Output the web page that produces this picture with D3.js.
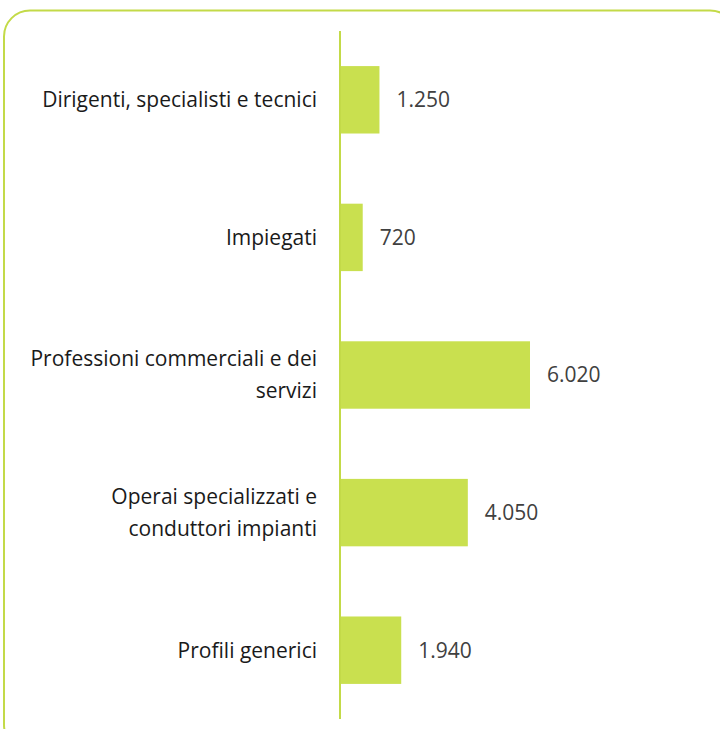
<!DOCTYPE html>
<html>
<head>
<meta charset="utf-8">
<script src="https://cdn.jsdelivr.net/npm/d3@7"></script>
<style>
    body { margin: 0; background: #fff; }
    svg { display: block; }
    text { font-family: "Open Sans", "Liberation Sans", sans-serif; }
</style>
</head>
<body>
<div id="chart"></div>
<script>
// categories (split into the lines shown on the chart)
const categories = [
    "Dirigenti, specialisti e tecnici",
    "Impiegati",
    "Professioni commerciali e dei servizi",
    "Operai specializzati e conduttori impianti",
    "Profili generici"
];
const categoryLines = [
    ["Dirigenti, specialisti e tecnici"],
    ["Impiegati"],
    ["Professioni commerciali e dei", "servizi"],
    ["Operai specializzati e", "conduttori impianti"],
    ["Profili generici"]
];
const values = [1250, 720, 6020, 4050, 1940];
const valueLabels = ["1.250", "720", "6.020", "4.050", "1.940"];

const width = 720, height = 729;
const green = "#c9e04f";

let svg = d3.select("#chart").append("svg")
    .attr("width", width)
    .attr("height", height);

// rounded frame, partly outside the picture
svg.append("rect")
    .attr("x", 4)
    .attr("y", 10.5)
    .attr("width", 732)
    .attr("height", 740)
    .attr("rx", 26)
    .attr("fill", "none")
    .attr("stroke", "#c3da48")
    .attr("stroke-width", 2);

const axisX = 340;

let y = d3.scaleBand()
    .domain(categories)
    .range([31, 719])
    .paddingInner(0.51)
    .paddingOuter(0.255);

let x = d3.scaleLinear()
    .domain([0, 6020])
    .range([axisX, 530]);

// bars
svg.selectAll(".bar")
    .data(values)
    .enter()
    .append("rect")
    .attr("class", "bar")
    .attr("x", x(0))
    .attr("y", (d, i) => y(categories[i]))
    .attr("width", d => x(d) - x(0))
    .attr("height", y.bandwidth())
    .attr("fill", green);

// axis line (no ticks)
let yAxis = d3.axisLeft(y).tickSize(0).tickFormat("");
let axisG = svg.append("g")
    .attr("transform", `translate(${axisX},0)`)
    .call(yAxis);
axisG.select(".domain")
    .attr("d", `M0,${y.range()[0]}V${y.range()[1]}`)
    .attr("stroke", "#c3da48")
    .attr("stroke-width", 2);

// value labels
svg.selectAll(".value")
    .data(values)
    .enter()
    .append("text")
    .attr("class", "value")
    .attr("x", d => x(d) + 17)
    .attr("y", (d, i) => y(categories[i]) + y.bandwidth() / 2)
    .attr("dy", "0.35em")
    .style("font-size", "21px")
    .style("fill", "#404040")
    .text((d, i) => valueLabels[i]);

// category labels
const lineH = 32;
categories.forEach((c, i) => {
    let lines = categoryLines[i];
    let cy = y(c) + y.bandwidth() / 2;
    let t = svg.append("text")
        .attr("text-anchor", "end")
        .style("font-size", "21px")
        .style("fill", "#1a1a1a");
    lines.forEach((l, j) => {
        t.append("tspan")
            .attr("x", axisX - 23)
            .attr("y", cy + (j - (lines.length - 1) / 2) * lineH)
            .attr("dy", "0.35em")
            .text(l);
    });
});
</script>
</body>
</html>
